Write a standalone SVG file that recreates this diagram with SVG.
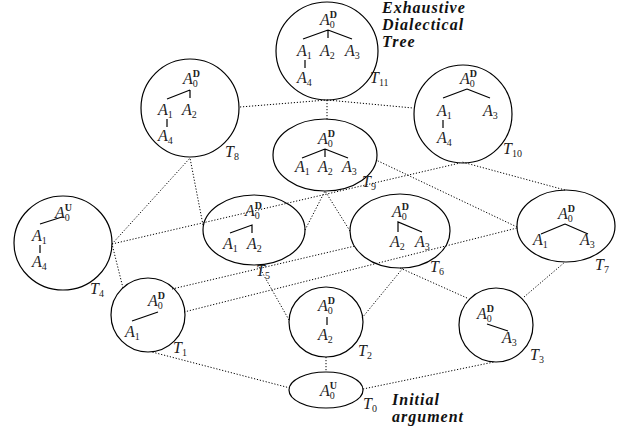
<svg xmlns="http://www.w3.org/2000/svg" width="628" height="431" viewBox="0 0 628 431">
<style>
.bg{fill:#fff}
.n{fill:none;stroke:#000;stroke-width:1.2}
.tl{stroke:#000;stroke-width:1.2;fill:none}
.e{stroke:#000;stroke-width:1;stroke-dasharray:1.2 1.8;fill:none}
.a{font-family:"Liberation Serif","DejaVu Serif","Times New Roman",serif;font-style:italic;font-size:16px;fill:#222}
.sb{font-style:normal;font-size:10px}
.sp{font-style:normal;font-weight:bold;font-size:10px}
.cap{font-family:"Liberation Serif","DejaVu Serif","Times New Roman",serif;font-style:italic;font-weight:bold;font-size:16px;letter-spacing:1px;fill:#111}
</style>
<rect class="bg" width="628" height="431"/>
<g id="connectors">
<line class="e" x1="290" y1="388" x2="152" y2="352"/>
<line class="e" x1="326" y1="357" x2="326" y2="372"/>
<line class="e" x1="363" y1="389" x2="494" y2="362"/>
<line class="e" x1="123" y1="288" x2="112" y2="244"/>
<line class="e" x1="172" y1="289" x2="355" y2="246"/>
<line class="e" x1="184" y1="312" x2="517" y2="228"/>
<line class="e" x1="289" y1="320" x2="258" y2="265"/>
<line class="e" x1="362" y1="318" x2="403" y2="268"/>
<line class="e" x1="467" y1="298" x2="400" y2="268"/>
<line class="e" x1="524" y1="297" x2="565" y2="262"/>
<line class="e" x1="112" y1="244" x2="190" y2="158"/>
<line class="e" x1="112" y1="244" x2="460" y2="163"/>
<line class="e" x1="203" y1="225" x2="190" y2="158"/>
<line class="e" x1="305" y1="230" x2="325" y2="191"/>
<line class="e" x1="350" y1="231" x2="325" y2="191"/>
<line class="e" x1="517" y1="227" x2="376" y2="160"/>
<line class="e" x1="565" y1="190" x2="462" y2="162"/>
<line class="e" x1="240" y1="107" x2="327" y2="100"/>
<line class="e" x1="327" y1="100" x2="327" y2="120"/>
<line class="e" x1="327" y1="100" x2="413" y2="108"/>
</g>
<g id="T11">
<ellipse class="n" cx="327" cy="51" rx="51" ry="49"/>
<text class="a" x="320" y="25">A<tspan class="sb" dy="3">0</tspan><tspan class="sp" dx="-5" dy="-10">D</tspan></text>
<path class="tl" d="M328 30L303 39M328 30L352 39M328 30V38M305 60V68"/>
<text class="a" x="297" y="56">A<tspan class="sb" dy="3">1</tspan></text>
<text class="a" x="320" y="56">A<tspan class="sb" dy="3">2</tspan></text>
<text class="a" x="345" y="56">A<tspan class="sb" dy="3">3</tspan></text>
<text class="a" x="297" y="83">A<tspan class="sb" dy="3">4</tspan></text>
<text class="a" x="370" y="83">T<tspan class="sb" dy="3">11</tspan></text>
</g>
<text class="cap" x="382" y="13">Exhaustive</text>
<text class="cap" x="382" y="30">Dialectical</text>
<text class="cap" x="382" y="47">Tree</text>
<g id="T8">
<ellipse class="n" cx="190" cy="108" rx="49" ry="49"/>
<text class="a" x="183" y="84">A<tspan class="sb" dy="3">0</tspan><tspan class="sp" dx="-5" dy="-10">D</tspan></text>
<path class="tl" d="M190 90L167 99M190 90V98M167 119V127"/>
<text class="a" x="158" y="115">A<tspan class="sb" dy="3">1</tspan></text>
<text class="a" x="182" y="115">A<tspan class="sb" dy="3">2</tspan></text>
<text class="a" x="158" y="141">A<tspan class="sb" dy="3">4</tspan></text>
<text class="a" x="225" y="157">T<tspan class="sb" dy="3">8</tspan></text>
</g>
<g id="T10">
<ellipse class="n" cx="463" cy="114" rx="49" ry="49"/>
<text class="a" x="460" y="84">A<tspan class="sb" dy="3">0</tspan><tspan class="sp" dx="-5" dy="-10">D</tspan></text>
<path class="tl" d="M467 89L443 98M467 89L490 98M443 120V128"/>
<text class="a" x="437" y="116">A<tspan class="sb" dy="3">1</tspan></text>
<text class="a" x="483" y="116">A<tspan class="sb" dy="3">3</tspan></text>
<text class="a" x="437" y="143">A<tspan class="sb" dy="3">4</tspan></text>
<text class="a" x="503" y="154">T<tspan class="sb" dy="3">10</tspan></text>
</g>
<g id="T9">
<ellipse class="n" cx="325" cy="155" rx="52" ry="36"/>
<text class="a" x="318" y="144">A<tspan class="sb" dy="3">0</tspan><tspan class="sp" dx="-5" dy="-10">D</tspan></text>
<path class="tl" d="M325 149L302 158M325 149L348 158M325 149V157"/>
<text class="a" x="295" y="172">A<tspan class="sb" dy="3">1</tspan></text>
<text class="a" x="318" y="172">A<tspan class="sb" dy="3">2</tspan></text>
<text class="a" x="342" y="172">A<tspan class="sb" dy="3">3</tspan></text>
<text class="a" x="362" y="187">T<tspan class="sb" dy="3">9</tspan></text>
</g>
<g id="T4">
<ellipse class="n" cx="63" cy="243" rx="49" ry="47"/>
<text class="a" x="55" y="218">A<tspan class="sb" dy="3">0</tspan><tspan class="sp" dx="-5" dy="-10">U</tspan></text>
<path class="tl" d="M40 224L62 217M40 245V253"/>
<text class="a" x="32" y="241">A<tspan class="sb" dy="3">1</tspan></text>
<text class="a" x="32" y="267">A<tspan class="sb" dy="3">4</tspan></text>
<text class="a" x="90" y="294">T<tspan class="sb" dy="3">4</tspan></text>
</g>
<g id="T5">
<ellipse class="n" cx="254" cy="230" rx="51" ry="35"/>
<text class="a" x="245" y="216">A<tspan class="sb" dy="3">0</tspan><tspan class="sp" dx="-5" dy="-10">D</tspan></text>
<path class="tl" d="M230 233L252 225V233"/>
<text class="a" x="223" y="249">A<tspan class="sb" dy="3">1</tspan></text>
<text class="a" x="247" y="249">A<tspan class="sb" dy="3">2</tspan></text>
<text class="a" x="256" y="276">T<tspan class="sb" dy="3">5</tspan></text>
</g>
<g id="T6">
<ellipse class="n" cx="400" cy="231" rx="50" ry="37"/>
<text class="a" x="392" y="217">A<tspan class="sb" dy="3">0</tspan><tspan class="sp" dx="-5" dy="-10">D</tspan></text>
<path class="tl" d="M398 232V222L422 232"/>
<text class="a" x="390" y="247">A<tspan class="sb" dy="3">2</tspan></text>
<text class="a" x="415" y="247">A<tspan class="sb" dy="3">3</tspan></text>
<text class="a" x="430" y="272">T<tspan class="sb" dy="3">6</tspan></text>
</g>
<g id="T7">
<ellipse class="n" cx="566" cy="226" rx="49" ry="36"/>
<text class="a" x="558" y="219">A<tspan class="sb" dy="3">0</tspan><tspan class="sp" dx="-5" dy="-10">D</tspan></text>
<path class="tl" d="M565 224L541 234M565 224L588 234"/>
<text class="a" x="533" y="245">A<tspan class="sb" dy="3">1</tspan></text>
<text class="a" x="580" y="245">A<tspan class="sb" dy="3">3</tspan></text>
<text class="a" x="595" y="270">T<tspan class="sb" dy="3">7</tspan></text>
</g>
<g id="T1">
<ellipse class="n" cx="148" cy="315" rx="37" ry="37"/>
<text class="a" x="148" y="306">A<tspan class="sb" dy="3">0</tspan><tspan class="sp" dx="-5" dy="-10">D</tspan></text>
<path class="tl" d="M132 321L158 312"/>
<text class="a" x="125" y="337">A<tspan class="sb" dy="3">1</tspan></text>
<text class="a" x="173" y="353">T<tspan class="sb" dy="3">1</tspan></text>
</g>
<g id="T2">
<ellipse class="n" cx="326" cy="322" rx="37" ry="35"/>
<text class="a" x="318" y="311">A<tspan class="sb" dy="3">0</tspan><tspan class="sp" dx="-5" dy="-10">D</tspan></text>
<path class="tl" d="M327 317V325"/>
<text class="a" x="318" y="340">A<tspan class="sb" dy="3">2</tspan></text>
<text class="a" x="358" y="356">T<tspan class="sb" dy="3">2</tspan></text>
</g>
<g id="T3">
<ellipse class="n" cx="496" cy="325" rx="37" ry="37"/>
<text class="a" x="477" y="319">A<tspan class="sb" dy="3">0</tspan><tspan class="sp" dx="-5" dy="-10">D</tspan></text>
<path class="tl" d="M487 324L508 331"/>
<text class="a" x="502" y="343">A<tspan class="sb" dy="3">3</tspan></text>
<text class="a" x="530" y="360">T<tspan class="sb" dy="3">3</tspan></text>
</g>
<g id="T0">
<ellipse class="n" cx="326" cy="390" rx="37" ry="18"/>
<text class="a" x="320" y="396">A<tspan class="sb" dy="3">0</tspan><tspan class="sp" dx="-5" dy="-10">U</tspan></text>
<text class="a" x="363" y="409">T<tspan class="sb" dy="3">0</tspan></text>
</g>
<text class="cap" x="392" y="405">Initial</text>
<text class="cap" x="392" y="422">argument</text>
</svg>
